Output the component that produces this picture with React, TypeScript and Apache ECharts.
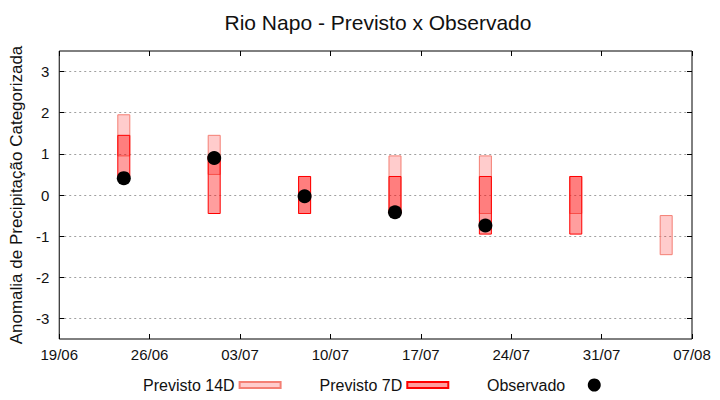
import React, { useEffect, useRef } from "react";
import * as echarts from "echarts";

const titleText = "Rio Napo - Previsto x Observado";
const yAxisName = "Anomalia de Precipitação Categorizada";
const xTickLabels = ["19/06", "26/06", "03/07", "10/07", "17/07", "24/07", "31/07", "07/08"];
const yTickValues = [-3, -2, -1, 0, 1, 2, 3];

const dates = ["24/06", "01/07", "08/07", "15/07", "22/07", "29/07", "05/08"];
const prev14Low = [0.95, 0.5, -0.45, -0.45, -0.45, -0.45, -1.45];
const prev14High = [1.95, 1.45, 0.45, 0.95, 0.95, 0.45, -0.5];
const prev7Low: (number | null)[] = [0.45, -0.45, -0.45, -0.45, -0.95, -0.95, null];
const prev7High: (number | null)[] = [1.45, 0.95, 0.45, 0.45, 0.45, 0.45, null];
const observed: (number | null)[] = [0.41, 0.9, -0.03, -0.42, -0.74, null, null];

const START = xTickLabels[0];

function dayOffset(ddmm: string): number {
  const [d, m] = ddmm.split("/").map(Number);
  const [sd, sm] = START.split("/").map(Number);
  return (Date.UTC(2000, m - 1, d) - Date.UTC(2000, sm - 1, sd)) / 86400000;
}

const FONT = "Liberation Sans";

export default function App() {
  const ref = useRef<HTMLDivElement>(null);

  useEffect(() => {
    if (!ref.current) return;
    const chart = echarts.init(ref.current, undefined, { renderer: "svg" });

    const xs = dates.map(dayOffset);
    const d14 = xs.map((x, i) => [x, prev14Low[i], prev14High[i]]);
    const d7 = xs
      .map((x, i) => [x, prev7Low[i], prev7High[i]])
      .filter((r) => r[1] != null && r[2] != null);
    const dObs = xs
      .map((x, i) => [x, observed[i]])
      .filter((r) => r[1] != null);

    const renderBox = (params: any, api: any) => {
      const x = api.value(0);
      const lo = api.value(1);
      const hi = api.value(2);
      const p1 = api.coord([x, hi]);
      const p2 = api.coord([x, lo]);
      return {
        type: "rect",
        shape: { x: p1[0] - 6, y: p1[1], width: 12, height: p2[1] - p1[1] },
        style: api.style(),
      };
    };

    const tickCommon = { inside: true, length: 5, lineStyle: { color: "#000", width: 1 } };
    const xMax = (xTickLabels.length - 1) * 7;

    chart.setOption({
      animation: false,
      backgroundColor: "#fff",
      textStyle: { fontFamily: FONT },
      title: {
        text: titleText,
        left: 373,
        top: 7,
        textAlign: "center",
        textStyle: { fontFamily: FONT, fontSize: 21, fontWeight: "normal", color: "#111" },
      },
      grid: {
        left: 55,
        right: 28,
        top: 51,
        bottom: 61,
        show: true,
        borderColor: "#000",
        borderWidth: 1,
        backgroundColor: "transparent",
      },
      legend: [
        {
          data: [
            { name: "Previsto 14D", icon: "rect" },
            { name: "Previsto 7D", icon: "rect" },
          ],
          left: 143,
          top: 377,
          padding: 0,
          align: "right",
          orient: "horizontal",
          itemWidth: 41,
          itemHeight: 6,
          itemGap: 38,
          textStyle: { fontFamily: FONT, fontSize: 16, color: "#111" },
        },
        {
          data: [{ name: "Observado", icon: "circle" }],
          left: 487,
          top: 377,
          padding: 0,
          align: "right",
          itemWidth: 48,
          itemHeight: 13,
          textStyle: { fontFamily: FONT, fontSize: 16, color: "#111" },
        },
      ],
      xAxis: [
        {
          type: "value",
          min: 0,
          max: xMax,
          interval: 7,
          position: "bottom",
          axisLine: { show: false, onZero: false },
          axisTick: tickCommon,
          splitLine: { show: false },
          axisLabel: {
            margin: 8,
            fontFamily: FONT,
            fontSize: 15,
            color: "#111",
            formatter: (v: number) => xTickLabels[Math.round(v / 7)] ?? "",
          },
        },
        {
          type: "value",
          min: 0,
          max: xMax,
          interval: 7,
          position: "top",
          axisLine: { show: false, onZero: false },
          axisTick: tickCommon,
          splitLine: { show: false },
          axisLabel: { show: false },
        },
      ],
      yAxis: [
        {
          type: "value",
          min: -3.5,
          max: 3.5,
          position: "left",
          name: yAxisName,
          nameLocation: "middle",
          nameGap: 20,
          nameTextStyle: { fontFamily: FONT, fontSize: 17, color: "#111" },
          axisLine: { show: false, onZero: false },
          axisTick: { ...tickCommon, customValues: yTickValues },
          axisLabel: {
            customValues: yTickValues,
            margin: 10,
            fontFamily: FONT,
            fontSize: 15,
            color: "#111",
          },
          splitLine: {
            show: true,
            lineStyle: { color: "#a0a0a0", type: [2, 3], width: 1 },
          },
        },
        {
          type: "value",
          min: -3.5,
          max: 3.5,
          position: "right",
          axisLine: { show: false, onZero: false },
          axisTick: { ...tickCommon, customValues: yTickValues },
          axisLabel: { show: false, customValues: yTickValues },
          splitLine: { show: false },
        },
      ],
      series: [
        {
          name: "Previsto 14D",
          type: "custom",
          xAxisIndex: 0,
          yAxisIndex: 0,
          renderItem: renderBox,
          encode: { x: 0, y: [1, 2] },
          itemStyle: { color: "rgba(255,0,0,0.2)", borderColor: "#f47f74", borderWidth: 1 },
          data: d14,
          z: 2,
        },
        {
          name: "Previsto 7D",
          type: "custom",
          xAxisIndex: 0,
          yAxisIndex: 0,
          renderItem: renderBox,
          encode: { x: 0, y: [1, 2] },
          itemStyle: { color: "rgba(255,0,0,0.38)", borderColor: "#ff0000", borderWidth: 1 },
          data: d7,
          z: 3,
        },
        {
          name: "Observado",
          type: "scatter",
          xAxisIndex: 0,
          yAxisIndex: 0,
          symbol: "circle",
          symbolSize: 14,
          itemStyle: { color: "#000", opacity: 1 },
          data: dObs,
          z: 4,
        },
      ],
    });

    return () => chart.dispose();
  }, []);

  return (
    <div
      ref={ref}
      style={{ position: "fixed", left: 0, top: 0, width: 720, height: 400 }}
    />
  );
}
